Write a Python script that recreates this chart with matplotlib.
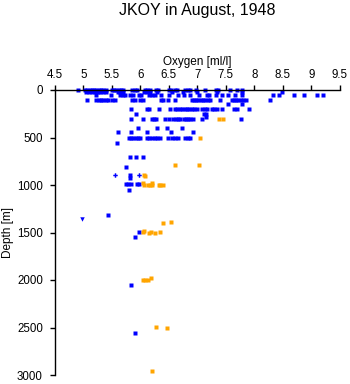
import matplotlib
matplotlib.use("Agg")
import matplotlib.pyplot as plt

plt.rcParams['font.family'] = ['Liberation Sans', 'DejaVu Sans']

# ---- data (oxygen ml/l, depth m) ----
blue_oxygen = [
    # 0 m
    4.91, 5.03, 5.07, 5.11, 5.15, 5.19, 5.23, 5.27, 5.31, 5.35, 5.39, 5.50, 5.54, 5.58,
    5.62, 5.66, 5.70, 5.85, 5.90, 5.94, 6.08, 6.12, 6.17, 6.28, 6.31, 6.50, 6.54, 6.60,
    6.65, 6.78, 6.83, 6.87, 6.98, 7.13, 7.32, 7.36, 7.57, 7.69, 7.79,
    # 25 m
    5.04, 5.10, 5.15, 5.20, 5.25, 5.30, 5.35, 5.40, 5.60, 5.65, 5.70, 6.07, 6.12, 6.17,
    6.30, 6.55, 6.75, 7.00, 7.35, 7.78, 8.48,
    # 50 m
    5.23, 5.48, 5.64, 5.69, 5.73, 5.82, 5.88, 5.97, 6.02, 6.15, 6.20, 6.25, 6.36, 6.50,
    6.66, 6.77, 6.87, 7.03, 7.17, 7.21, 7.32, 7.43, 7.54, 7.66, 7.78, 8.33, 8.44, 8.70,
    8.88, 9.10, 9.21,
    # 100 m
    5.06, 5.23, 5.27, 5.31, 5.35, 5.40, 5.44, 5.50, 5.55, 5.85, 5.90, 6.00, 6.05, 6.37,
    6.40, 6.49, 6.60, 6.90, 6.94, 6.98, 7.02, 7.06, 7.10, 7.14, 7.18, 7.22, 7.40, 7.60,
    7.64, 7.68, 7.72, 7.76, 7.80, 7.86, 8.28,
    # 150 m
    7.54, 7.78,
    # 200 m
    5.84, 6.11, 6.15, 6.33, 6.52, 6.61, 6.65, 6.70, 6.74, 6.78, 6.82, 6.86, 6.90, 6.94,
    7.00, 7.09, 7.13, 7.17, 7.26, 7.30, 7.34, 7.43, 7.65, 7.70, 7.91,
    # 250 m
    5.92, 7.12, 7.16, 7.15,
    # 300 m
    5.84, 6.04, 6.20, 6.24, 6.28, 6.44, 6.50, 6.58, 6.62, 6.66, 6.70, 6.76, 6.80, 6.84,
    6.88, 6.93, 7.08, 7.77,
    # 400-440 m
    5.96, 6.29, 6.46, 6.74, 5.60, 5.83, 6.11, 6.53, 6.92,
    # 500 m
    5.81, 5.84, 5.88, 5.92, 5.96, 6.00, 6.11, 6.15, 6.20, 6.25, 6.30, 6.35, 6.49, 6.55,
    6.60, 6.66, 6.78, 6.83, 6.87,
    # deep
    5.59, 5.82, 5.92, 6.05, 5.75, 5.82, 5.82, 5.75, 5.79, 5.83, 5.95, 5.98, 5.81,
    5.44, 5.98, 5.90, 5.84, 5.91,
]
blue_depth = (
    [0] * 39
    + [25] * 21
    + [50] * 31
    + [100] * 35
    + [150] * 2
    + [200] * 25
    + [250, 250, 250, 280]
    + [300] * 18
    + [400, 400, 400, 400, 440, 440, 440, 440, 440]
    + [500] * 19
    + [560, 700, 700, 700, 815, 890, 930, 990, 990, 990, 990, 990, 1050,
       1320, 1490, 1550, 2050, 2555]
)

blue_plus_oxygen = [5.56, 5.98]
blue_plus_depth = [890, 890]

blue_tri_oxygen = [4.98]
blue_tri_depth = [1360]

orange_oxygen = [
    7.38, 7.45, 7.05, 6.61, 7.03, 6.07, 6.08,
    6.04, 6.07, 6.13, 6.17, 6.21, 6.21, 6.32, 6.35, 6.39,
    6.54, 6.39,
    6.04, 6.07, 6.16, 6.18, 6.25, 6.35,
    6.18, 6.04, 6.08, 6.14,
    6.28, 6.46, 6.20,
]
orange_depth = [
    300, 300, 500, 790, 790, 890, 910,
    982, 1003, 1003, 995, 982, 1003, 995, 995, 1003,
    1390, 1405,
    1490, 1480, 1505, 1495, 1510, 1490,
    1982, 2000, 2000, 2000,
    2498, 2500, 2958,
]

x_ticks = [4.5, 5, 5.5, 6, 6.5, 7, 7.5, 8, 8.5, 9, 9.5]
x_tick_labels = ["4.5", "5", "5.5", "6", "6.5", "7", "7.5", "8", "8.5", "9", "9.5"]
y_ticks = [0, 500, 1000, 1500, 2000, 2500, 3000]

W, H = 350, 384
fig = plt.figure(figsize=(W / 100, H / 100), dpi=100)
ax = fig.add_axes([54.8 / W, 9 / H, 285 / W, 285 / H])

ms = 2.3
ax.plot(blue_oxygen, blue_depth, linestyle='none', marker='s', ms=ms,
        mfc='#0000ff', mec='none', clip_on=False)
ax.plot(blue_plus_oxygen, blue_plus_depth, linestyle='none', marker='P', ms=3.2,
        mfc='#0000ff', mec='none', clip_on=False)
ax.plot(blue_tri_oxygen, blue_tri_depth, linestyle='none', marker='v', ms=3.2,
        mfc='#0000ff', mec='none', clip_on=False)
ax.plot(orange_oxygen, orange_depth, linestyle='none', marker='s', ms=ms,
        mfc='#ffa500', mec='none', clip_on=False)

ax.set_xlim(4.5, 9.5)
ax.set_ylim(3000, 0)
ax.xaxis.tick_top()
ax.set_xticks(x_ticks)
ax.set_xticklabels(x_tick_labels)
ax.set_yticks(y_ticks)
for s in ['right', 'bottom']:
    ax.spines[s].set_visible(False)
for s in ['top', 'left']:
    ax.spines[s].set_linewidth(1.0)
    ax.spines[s].set_color('black')
ax.tick_params(axis='x', direction='out', length=3.6, width=1.0, pad=3,
               labelsize=8.3, top=True, bottom=False)
ax.tick_params(axis='y', direction='out', length=3.6, width=1.0, pad=5,
               labelsize=8.3)

fig.text(197.3 / W, 1 - 10 / H, "JKOY in August, 1948", ha='center', va='center',
         fontsize=11.5)
fig.text(197.3 / W, 1 - 62 / H, "Oxygen [ml/l]", ha='center', va='center',
         fontsize=8.5)
fig.text(8 / W, 1 - 232.5 / H, "Depth [m]", ha='center', va='center',
         rotation=90, fontsize=8.5)

fig.savefig("out.png", dpi=100)
